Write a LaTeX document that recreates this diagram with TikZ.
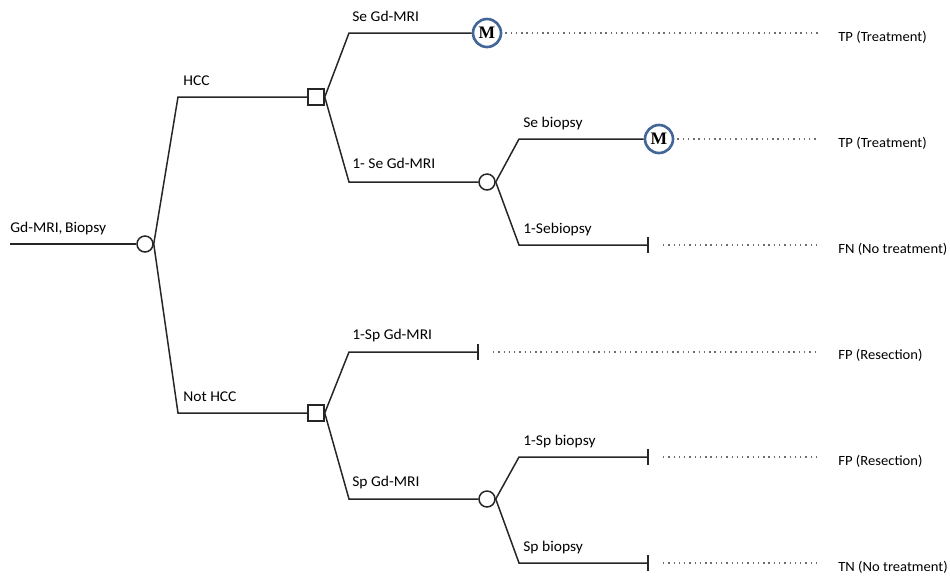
\documentclass[tikz,border=0pt]{standalone}
\usepackage{fontspec}
\setmainfont[FakeStretch=1.04]{Carlito}
\newfontfamily\mfont{Liberation Serif}
\definecolor{mblue}{RGB}{66,102,152}
\definecolor{dotgray}{RGB}{110,110,110}
\begin{document}
\begin{tikzpicture}[x=0.02cm,y=-0.02cm,
  branch/.style={line width=0.85pt, black!85},
  chance/.style={circle, draw=black!85, fill=white, line width=0.85pt, minimum size=0.32cm, inner sep=0pt},
  decision/.style={rectangle, draw=black!85, fill=white, line width=0.85pt, minimum size=0.32cm, inner sep=0pt},
  markov/.style={circle, draw=mblue, fill=white, line width=1.5pt, minimum size=0.56cm, inner sep=0pt, font=\mfont\bfseries\fontsize{10}{10}\selectfont},
  lbl/.style={anchor=base west, inner sep=0pt, font=\fontsize{8.5}{10}\selectfont},
  outc/.style={anchor=west, inner sep=0pt, font=\fontsize{8}{10}\selectfont},
  dots/.style={dotgray, line width=0.6pt, dash pattern=on 0.8pt off 2.2pt},
  bar/.style={line width=0.85pt, black!85}]
\useasboundingbox (0,0) rectangle (950,576);

% nodes
\coordinate (root) at (10,244);
\node[chance] (c0) at (145,244) {};
\node[decision] (d1) at (316,97) {};
\node[decision] (d2) at (316,413) {};
\node[markov] (m1) at (487,33) {M};
\node[chance] (c1) at (487,182) {};
\node[markov] (m2) at (659,139) {M};
\node[chance] (c2) at (487,499) {};
\coordinate (t1) at (648,245);
\coordinate (t2) at (478,352);
\coordinate (t3) at (648,457);
\coordinate (t4) at (648,563);

% elbows
\coordinate (e1) at (178,97);
\coordinate (e2) at (178,413);
\coordinate (e3) at (349,33);
\coordinate (e4) at (349,182);
\coordinate (e5) at (519,139);
\coordinate (e6) at (519,245);
\coordinate (e7) at (349,352);
\coordinate (e8) at (349,499);
\coordinate (e9) at (519,457);
\coordinate (e10) at (519,563);

% dotted ends
\coordinate (o1) at (818,33);
\coordinate (o2) at (818,139);
\coordinate (o3) at (818,245);
\coordinate (o4) at (818,352);
\coordinate (o5) at (818,457);
\coordinate (o6) at (818,563);

% branches
\draw[branch] (root) -- (c0.west);
\draw[branch] (c0.east) -- (e1) -- (d1.west);
\draw[branch] (c0.east) -- (e2) -- (d2.west);
\draw[branch] (d1.east) -- (e3) -- (m1.west);
\draw[branch] (d1.east) -- (e4) -- (c1.west);
\draw[branch] (c1.east) -- (e5) -- (m2.west);
\draw[branch] (c1.east) -- (e6) -- (t1);
\draw[branch] (d2.east) -- (e7) -- (t2);
\draw[branch] (d2.east) -- (e8) -- (c2.west);
\draw[branch] (c2.east) -- (e9) -- (t3);
\draw[branch] (c2.east) -- (e10) -- (t4);

% terminal bars
\foreach \t in {t1,t2,t3,t4}{\draw[bar] ([yshift=0.16cm]\t) -- ([yshift=-0.16cm]\t);}

% dotted lines
\draw[dots] ([xshift=0.06cm]m1.east) -- (o1);
\draw[dots] ([xshift=0.06cm]m2.east) -- (o2);
\draw[dots] ([xshift=0.3cm]t1) -- (o3);
\draw[dots] ([xshift=0.3cm]t2) -- (o4);
\draw[dots] ([xshift=0.3cm]t3) -- (o5);
\draw[dots] ([xshift=0.3cm]t4) -- (o6);

% branch labels
\node[lbl] at (10,232) {Gd-MRI,\,Biopsy};
\node[lbl] at (183,85) {HCC};
\node[lbl] at (183,401) {Not HCC};
\node[lbl] at (352,21) {Se Gd-MRI};
\node[lbl] at (352,168) {1- Se Gd-MRI};
\node[lbl] at (523,127) {Se biopsy};
\node[lbl] at (523,233) {1-Sebiopsy};
\node[lbl] at (352,339) {1-Sp Gd-MRI};
\node[lbl] at (352,486) {Sp Gd-MRI};
\node[lbl] at (523,445) {1-Sp biopsy};
\node[lbl] at (523,551) {Sp biopsy};

% outcomes
\node[outc] at (838,37) {TP (Treatment)};
\node[outc] at (838,143) {TP (Treatment)};
\node[outc] at (838,249) {FN (No treatment)};
\node[outc] at (838,355) {FP (Resection)};
\node[outc] at (838,461) {FP (Resection)};
\node[outc] at (838,567) {TN (No treatment)};
\end{tikzpicture}
\end{document}
